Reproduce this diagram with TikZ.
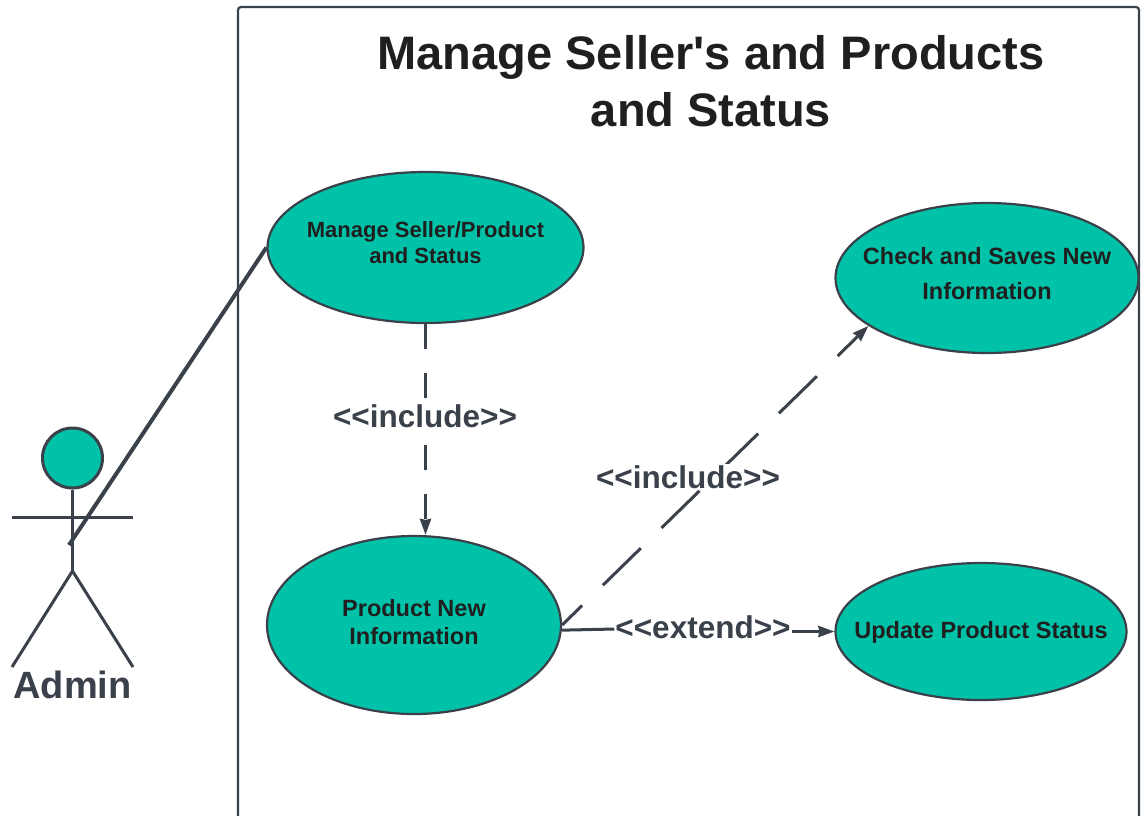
\documentclass[tikz,border=0pt]{standalone}
\usepackage{fontspec}
\setmainfont{Liberation Sans}
\usetikzlibrary{shapes.geometric,arrows.meta,calc}
\definecolor{tealfill}{HTML}{00C2A8}
\definecolor{linegray}{HTML}{3A414A}
\definecolor{titleblack}{HTML}{1F1F1F}
\tikzset{
  usecase/.style={ellipse,draw=linegray,fill=tealfill,line width=2.2pt,inner sep=0pt},
  casetext/.style={font=\bfseries\fontsize{23.5pt}{28pt}\selectfont,text=titleblack,align=center},
  actorline/.style={draw=linegray,line width=3pt},
  arrowtip/.style={-{Stealth[length=16pt,width=11pt,inset=1pt]}},
  stereotype/.style={font=\bfseries\fontsize{31.5pt}{36pt}\selectfont,text=linegray,inner sep=1pt}
}
\begin{document}
\begin{tikzpicture}[x=1pt,y=-1pt]
  \useasboundingbox (0,0) rectangle (1142,815);
  % system boundary
  \draw[draw=linegray,line width=2.2pt,rounded corners=3pt] (238,830) -- (238,7) -- (1139,7) -- (1139,830);
  \node[font=\bfseries\fontsize{47pt}{57pt}\selectfont,text=titleblack,align=center] (title) at (711,81) {Manage Seller\textquotesingle s and Products\\and Status};
  % use cases
  \node[usecase,minimum width=316pt,minimum height=151pt] (manage) at (425.5,247.5) {};
  \node[casetext,font=\bfseries\fontsize{22pt}{26pt}\selectfont] (managetext) at (425.5,243) {Manage Seller/Product\\and Status};
  \node[usecase,minimum width=303pt,minimum height=150pt] (check) at (987,278) {};
  \node[casetext,font=\bfseries\fontsize{23.5pt}{35pt}\selectfont] (checktext) at (987,274) {Check and Saves New\\Information};
  \node[usecase,minimum width=294pt,minimum height=178pt] (product) at (414,625) {};
  \node[casetext] (producttext) at (414,622.5) {Product New\\Information};
  \node[usecase,minimum width=291pt,minimum height=137pt] (update) at (981,631.5) {};
  \node[casetext] (updatetext) at (981,632) {Update Product Status};
  % actor
  \node[circle,draw=linegray,fill=tealfill,line width=3pt,minimum size=60pt,inner sep=0pt] (head) at (72.5,458) {};
  \coordinate (hip) at (72.5,571);
  \coordinate (armL) at (12,517.5);
  \coordinate (armR) at (133,517.5);
  \coordinate (footL) at (12,667);
  \coordinate (footR) at (133,667);
  \draw[actorline] (head) -- (hip);
  \draw[actorline] (armL) -- (armR);
  \draw[actorline] (footL) -- (hip) -- (footR);
  \node[font=\bfseries\fontsize{38pt}{44pt}\selectfont,text=linegray] (admin) at (72.5,685) {Admin};
  % connectors
  \coordinate (actorend) at (69,545);
  \draw[actorline,line width=4pt] (actorend) -- (manage.west);
  \node[stereotype] (includeA) at (425,416) {<{}<include>{}>};
  \draw[actorline,dash pattern=on 25pt off 24pt] (manage.south) -- (includeA.north -| manage.south);
  \draw[actorline,arrowtip,dash pattern=on 25pt off 24pt,dash phase=33pt] (includeA.south -| manage.south) -- (product.north -| manage.south);
  \draw[actorline,arrowtip,dash pattern=on 53pt off 29pt,dash phase=25pt] (product.east) -- (check.202);
  \node[stereotype,fill=white] (includeB) at (688,477) {<{}<include>{}>};
  \node[stereotype] (extend) at (703,627) {<{}<extend>{}>};
  \draw[actorline] (product.358) -- ([yshift=-2pt]extend.west);
  \draw[actorline,arrowtip] (extend.east |- update.west) -- (update.west);
\end{tikzpicture}
\end{document}
